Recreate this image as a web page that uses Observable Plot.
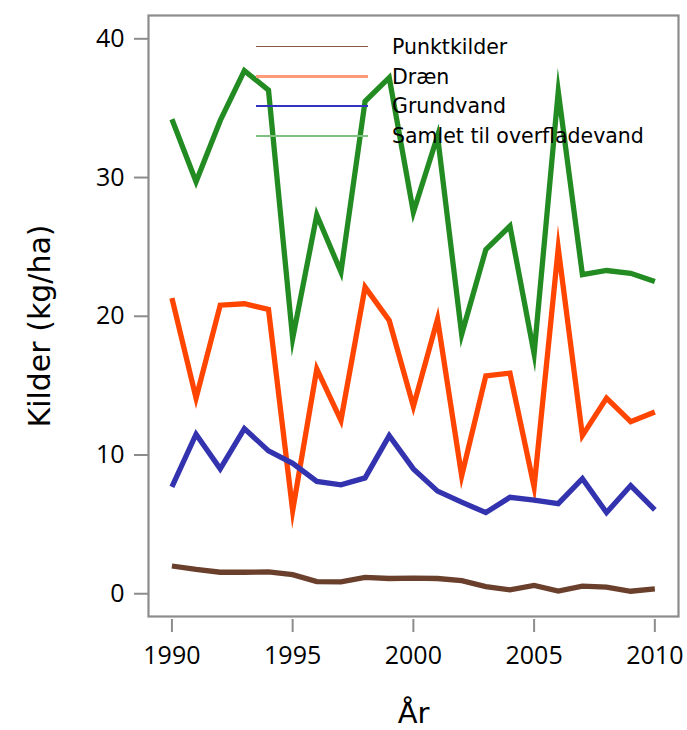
<!DOCTYPE html>
<html>
<head>
<meta charset="utf-8">
<script src="https://cdn.jsdelivr.net/npm/d3@7"></script>
<script src="https://cdn.jsdelivr.net/npm/@observablehq/plot@0.6"></script>
<style>
  html, body { margin: 0; padding: 0; background: #fff; }
  #wrap { position: relative; width: 687px; height: 730px; }
  #legend { position: absolute; left: 256px; top: 32px; font-family: "DejaVu Sans", sans-serif; font-size: 20.5px; color: #000; pointer-events: none; }
  .row { display: flex; align-items: center; height: 29.7px; }
  .swatch { width: 112px; margin-right: 24px; }
</style>
</head>
<body>
<div id="wrap"></div>
<script>
const years = [1990,1991,1992,1993,1994,1995,1996,1997,1998,1999,2000,2001,2002,2003,2004,2005,2006,2007,2008,2009,2010];
const punktkilder = [2.0,1.75,1.55,1.55,1.58,1.38,0.88,0.85,1.18,1.1,1.12,1.1,0.95,0.52,0.28,0.6,0.2,0.55,0.47,0.18,0.35];
const draen = [21.3,14.1,20.8,20.9,20.5,6.0,16.2,12.5,22.1,19.7,13.5,19.8,8.5,15.7,15.9,7.7,24.9,11.4,14.1,12.4,13.1];
const grundvand = [7.7,11.5,9.0,11.9,10.3,9.4,8.1,7.85,8.35,11.4,9.0,7.4,6.6,5.85,6.95,6.75,6.5,8.3,5.85,7.8,6.05];
const samlet = [34.2,29.7,34.1,37.7,36.3,18.4,27.3,23.2,35.5,37.2,27.5,33.0,18.7,24.8,26.5,17.3,36.2,23.0,23.3,23.1,22.5];

const seriesNames = ["Punktkilder","Dræn","Grundvand","Samlet til overfladevand"];
const seriesValues = [punktkilder, draen, grundvand, samlet];
const lineColors = ["#6a3f2b","#ff4500","#3333b0","#228b22"];
const legendColors = ["#8a5a48","#ff9a7a","#3333c0","#80c080"];
const legendWidths = [1, 2.5, 1.5, 2.5];
const xTicks = [1990,1995,2000,2005,2010];
const yTicks = [0,10,20,30,40];
const yTitle = "Kilder (kg/ha)";
const xTitle = "År";

const rows = [];
seriesNames.forEach((name, i) => {
  years.forEach((yr, j) => rows.push({series: name, year: yr, value: seriesValues[i][j]}));
});

const font = "'Open Sans', sans-serif";
const titleFont = "'DejaVu Sans', sans-serif";

const chart = Plot.plot({
  width: 687,
  height: 730,
  marginLeft: 148,
  marginRight: 9,
  marginTop: 15,
  marginBottom: 114,
  style: {fontFamily: font, color: "#000", background: "#fff"},
  x: {domain: [1989.03, 2010.98]},
  y: {domain: [-1.64, 41.68]},
  color: {domain: seriesNames, range: lineColors},
  marks: [
    Plot.frame({stroke: "#8c8c8c", strokeWidth: 2.2}),
    Plot.axisY({ticks: yTicks, tickSize: 14, tickPadding: 10, stroke: "#8c8c8c", strokeWidth: 2, fontSize: 25, fill: "#000",
      tickFormat: "d", label: null}),
    Plot.axisX({ticks: xTicks, tickSize: 13, dy: 3, text: null, label: null, stroke: "#8c8c8c", strokeWidth: 2}),
    Plot.axisX({ticks: xTicks, tickSize: 0, tickPadding: 30, fontSize: 25, fill: "#000",
      tickFormat: "d", label: null}),
    Plot.text([yTitle], {frameAnchor: "left", rotate: -90, dx: -108, dy: 10, fontSize: 30, fontFamily: titleFont,
      fill: "#000", textAnchor: "middle", lineAnchor: "middle"}),
    Plot.text([xTitle], {frameAnchor: "bottom", dy: 97, fontSize: 29, fontFamily: titleFont,
      fill: "#000", textAnchor: "middle", lineAnchor: "middle"}),
    Plot.line(rows, {x: "year", y: "value", z: "series", stroke: "series", strokeWidth: 5.3,
      strokeLinejoin: "miter", strokeMiterlimit: 10, strokeLinecap: "butt"})
  ]
});

const wrap = document.getElementById("wrap");
wrap.appendChild(chart);

const legend = d3.select(wrap).append("div").attr("id", "legend");
seriesNames.forEach((name, i) => {
  const r = legend.append("div").attr("class", "row");
  r.append("div").attr("class", "swatch")
    .style("height", legendWidths[i] + "px")
    .style("background", legendColors[i]);
  r.append("span").text(name);
});
</script>
</body>
</html>
